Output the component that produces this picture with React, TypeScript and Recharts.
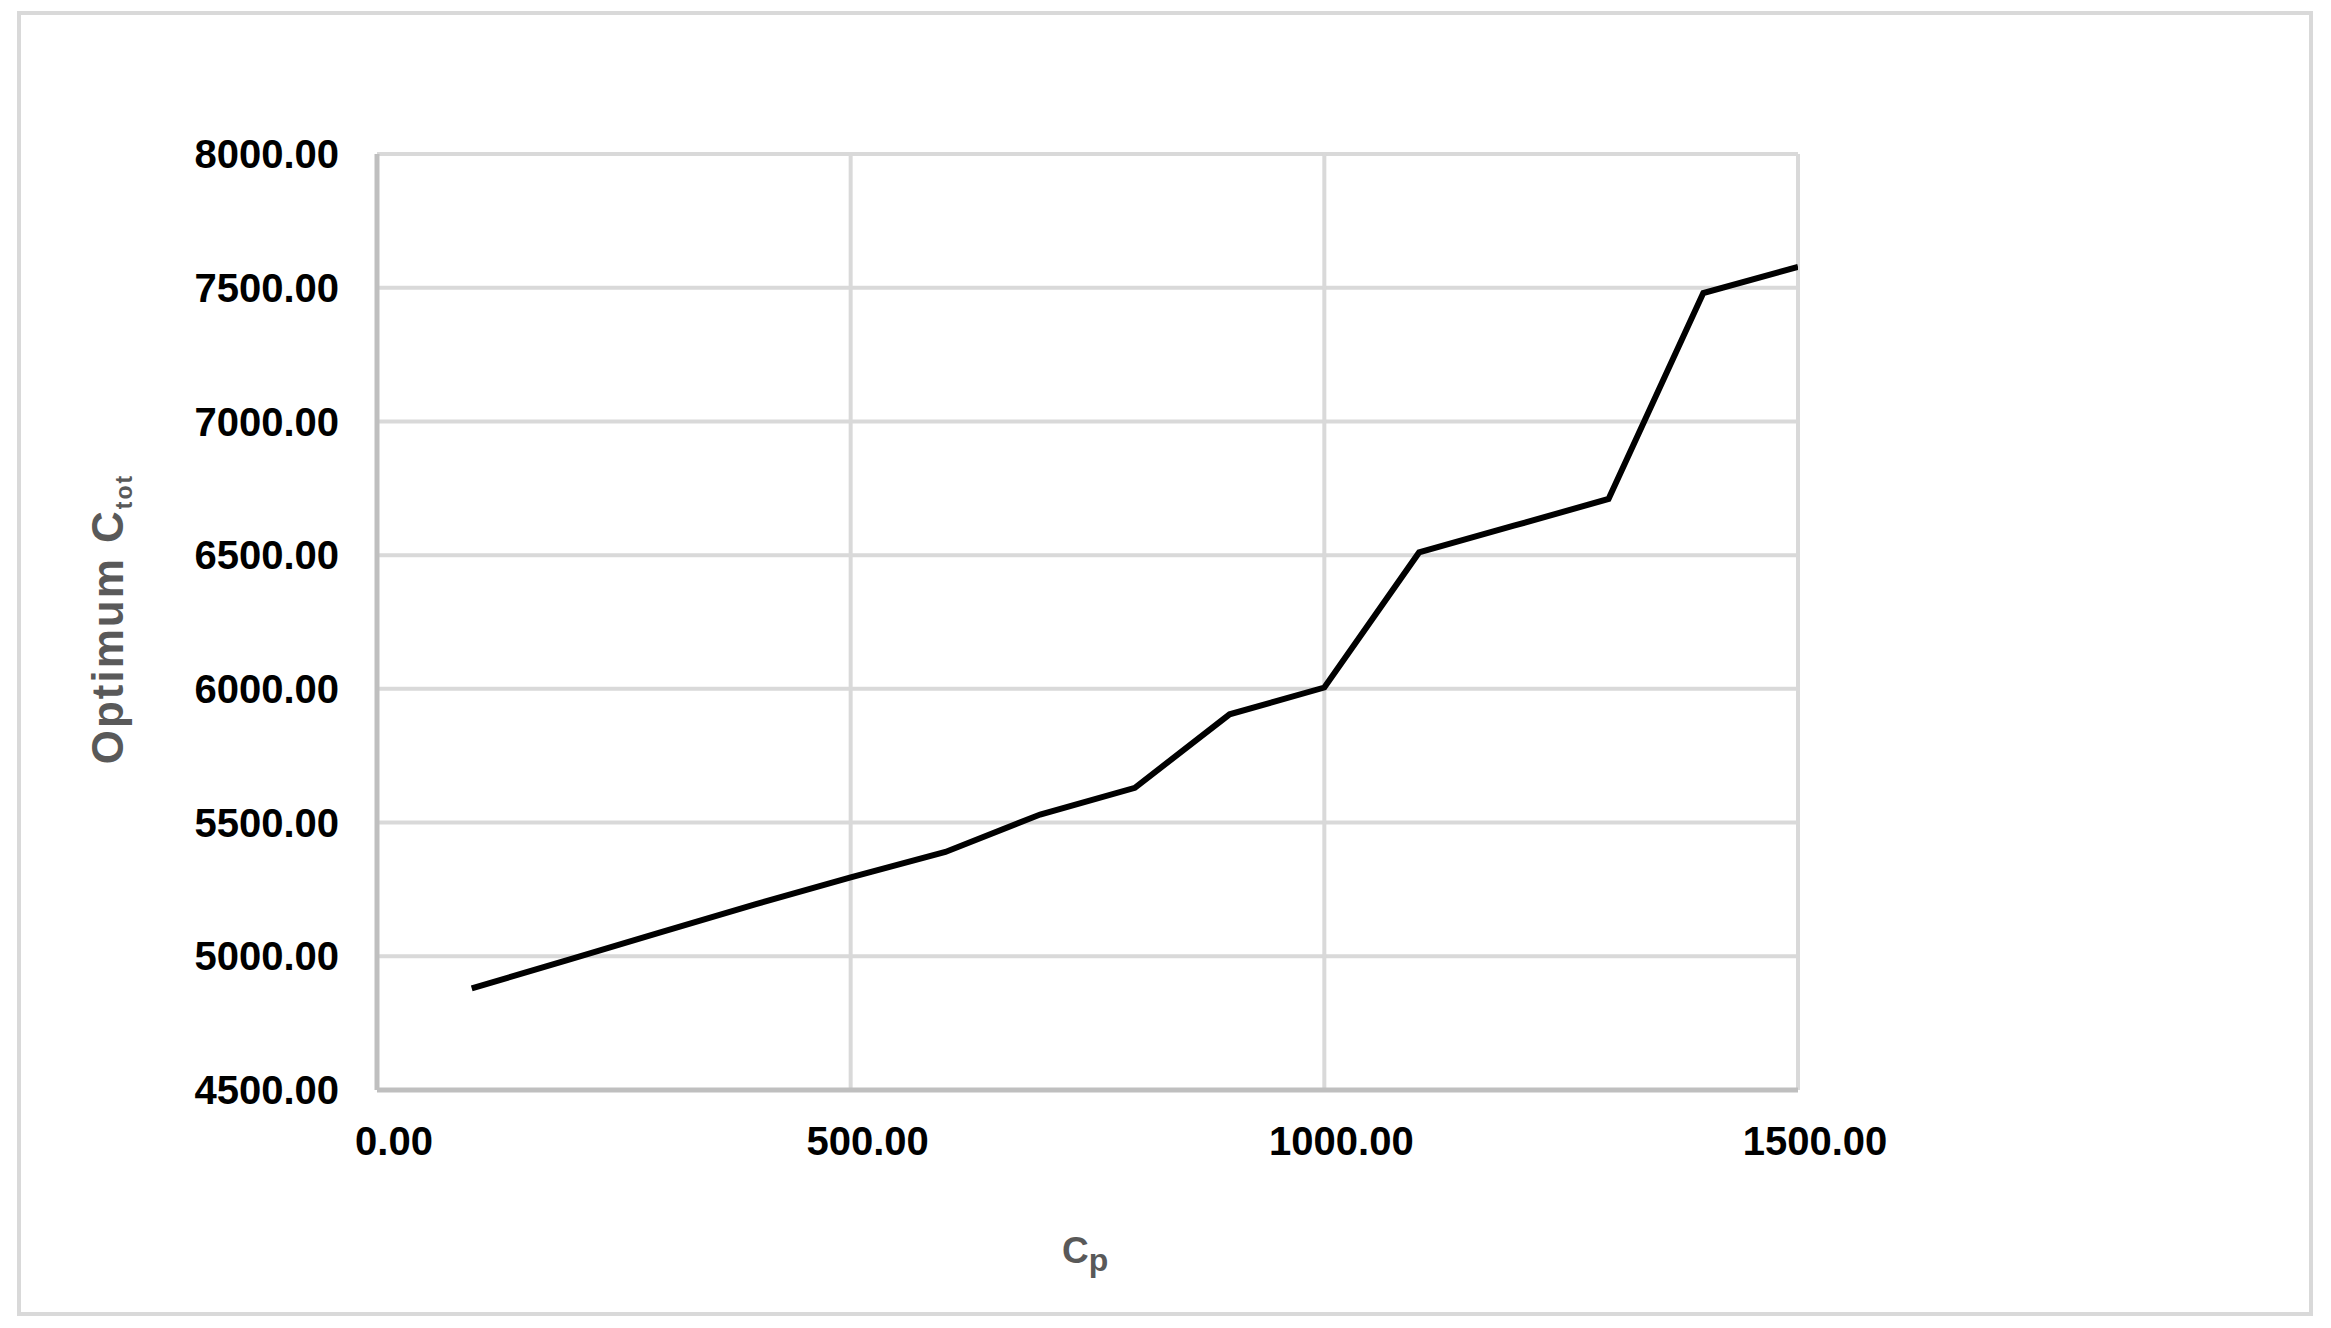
import React from 'react'
import { LineChart, Line, XAxis, YAxis, CartesianGrid } from 'recharts'

// c_p values along the x axis
const cpValues = [100, 200, 300, 400, 500, 600, 700, 800, 900, 1000, 1100, 1200, 1300, 1400, 1500]
// optimum C_tot
const ctotValues = [4880, 4985, 5090, 5195, 5295, 5390, 5530, 5630, 5905, 6005, 6510, 6610, 6710, 7480, 7578]

const xTicks = [0, 500, 1000, 1500]
const yTicks = [4500, 5000, 5500, 6000, 6500, 7000, 7500, 8000]

const chartData = cpValues.map((cp, i) => ({ cp, ctot: ctotValues[i] }))

const FONT = '"Liberation Sans", Arial, sans-serif'
const TITLE_COLOR = '#595959'

const YTitle = () => (
  <text
    x={123}
    y={619}
    transform="rotate(-90, 123, 619)"
    textAnchor="middle"
    fontFamily={FONT}
    fontWeight={700}
    fontSize={44}
    letterSpacing={2}
    fill={TITLE_COLOR}
  >
    Optimum C
    <tspan fontSize={23} dy={9}>tot</tspan>
  </text>
)

const XTitle = () => (
  <text x={1062} y={1263} fontFamily={FONT} fontWeight={700} fontSize={37} fill={TITLE_COLOR}>
    C
    <tspan fontSize={32} dy={8}>p</tspan>
  </text>
)

export default function App() {
  return (
    <div style={{ position: 'absolute', left: 0, top: 0, width: 2331, height: 1328, background: '#fff' }}>
      {/* outer chart frame */}
      <div
        style={{
          position: 'absolute',
          left: 17,
          top: 11,
          width: 2288,
          height: 1297,
          border: '4px solid #d9d9d9',
        }}
      />
      <div style={{ position: 'absolute', left: 0, top: 0 }}>
        <LineChart
          width={2331}
          height={1328}
          data={chartData}
          margin={{ top: 154, right: 533, left: 0, bottom: 0 }}
        >
          <CartesianGrid stroke="#d9d9d9" strokeWidth={4} />
          <XAxis
            dataKey="cp"
            type="number"
            domain={[0, 1500]}
            ticks={xTicks}
            height={238}
            tickSize={0}
            tickMargin={37}
            tickLine={false}
            dx={17}
            axisLine={{ stroke: '#bfbfbf', strokeWidth: 5 }}
            tickFormatter={(v: number) => v.toFixed(2)}
            tick={{ fontSize: 40, fontWeight: 700, fill: '#000', fontFamily: FONT }}
            allowDataOverflow
          />
          <YAxis
            type="number"
            domain={[4500, 8000]}
            ticks={yTicks}
            width={377}
            tickSize={0}
            tickMargin={38}
            tickLine={false}
            axisLine={{ stroke: '#bfbfbf', strokeWidth: 5 }}
            tickFormatter={(v: number) => v.toFixed(2)}
            tick={{ fontSize: 40, fontWeight: 700, fill: '#000', fontFamily: FONT }}
            allowDataOverflow
          />
          <Line
            type="linear"
            dataKey="ctot"
            stroke="#000"
            strokeWidth={6}
            dot={false}
            isAnimationActive={false}
          />
          <YTitle />
          <XTitle />
        </LineChart>
      </div>
    </div>
  )
}
